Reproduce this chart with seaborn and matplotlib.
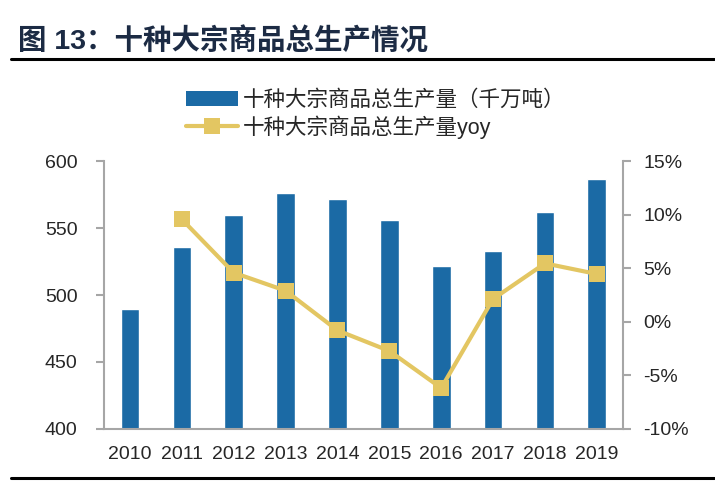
import matplotlib
matplotlib.use("Agg")
import matplotlib.pyplot as plt
import seaborn as sns
import pandas as pd
import numpy as np
from matplotlib.lines import Line2D
from matplotlib.patches import Patch
from matplotlib.ticker import FuncFormatter

years = ["2010", "2011", "2012", "2013", "2014", "2015", "2016", "2017", "2018", "2019"]
output = [489.3, 535.8, 560.0, 576.3, 571.6, 556.0, 521.4, 532.6, 561.7, 586.3]
yoy = [np.nan, 9.56, 4.58, 2.90, -0.80, -2.72, -6.18, 2.13, 5.45, 4.46]

bar_label = "十种大宗商品总生产量（千万吨）"
line_label = "十种大宗商品总生产量yoy"
title = "图 13：十种大宗商品总生产情况"

BAR_COLOR = "#1B6AA5"
LINE_COLOR = "#E3C662"
SPINE_COLOR = "#A6A6A6"

sns.set_theme(style="white")
plt.rcParams["font.family"] = ["Liberation Sans", "Noto Sans CJK SC", "DejaVu Sans"]

df = pd.DataFrame({"year": years, "output": output, "yoy": yoy, "pos": np.arange(len(years))})

fig = plt.figure(figsize=(7.15, 4.86), dpi=100)
ax = fig.add_axes([0.1455, 0.1173, 0.7255, 0.5514])

sns.barplot(data=df, x="year", y="output", color=BAR_COLOR, width=0.36,
            saturation=1, ax=ax)
ax.set_ylim(400, 600)
ax.set_yticks([400, 450, 500, 550, 600])
ax.set_xlim(-0.5, 9.5)
ax.set_xlabel("")
ax.set_ylabel("")

ax2 = ax.twinx()
sns.lineplot(data=df, x="pos", y="yoy", color=LINE_COLOR, linewidth=3,
             marker="s", markersize=12, markeredgewidth=0, ax=ax2)
ax2.set_ylim(-10, 15)
ax2.set_yticks([-10, -5, 0, 5, 10, 15])
ax2.yaxis.set_major_formatter(FuncFormatter(lambda v, p: f"{v:.0f}%"))
ax2.set_xlim(-0.5, 9.5)
ax2.set_xlabel("")
ax2.set_ylabel("")

for a in (ax, ax2):
    for s in a.spines.values():
        s.set_visible(False)
ax.spines["left"].set_visible(True)
ax.spines["bottom"].set_visible(True)
ax2.spines["right"].set_visible(True)
for s in (ax.spines["left"], ax.spines["bottom"], ax2.spines["right"]):
    s.set_color(SPINE_COLOR)
    s.set_linewidth(1.5)

ax.tick_params(axis="y", direction="out", length=6, width=1.5, color=SPINE_COLOR,
               labelsize=14, pad=13, left=True)
ax.tick_params(axis="x", length=0, labelsize=14, pad=12)
ax2.tick_params(axis="y", direction="out", length=6, width=1.5, color=SPINE_COLOR,
                labelsize=14, pad=9, right=True)

handles = [
    Patch(facecolor=BAR_COLOR, edgecolor="none"),
    Line2D([0], [0], color=LINE_COLOR, linewidth=3, marker="s", markersize=12,
           markeredgewidth=0),
]
fig.legend(handles, [bar_label, line_label], loc="upper left",
           bbox_to_anchor=(0.248, 0.832), frameon=False, fontsize=15.5,
           handlelength=2.4, handletextpad=0.25, labelspacing=0.2,
           borderaxespad=0)

fig.text(0.025, 0.915, title, fontsize=20.5, fontweight="bold", color="#1C2B44",
         va="center", ha="left")

fig.add_artist(Line2D([0.015, 0.998], [0.878, 0.878], color="black", linewidth=2.2,
                      transform=fig.transFigure))
fig.add_artist(Line2D([0.015, 0.998], [0.016, 0.016], color="black", linewidth=2.2,
                      transform=fig.transFigure))

fig.savefig("out.png", dpi=100)
